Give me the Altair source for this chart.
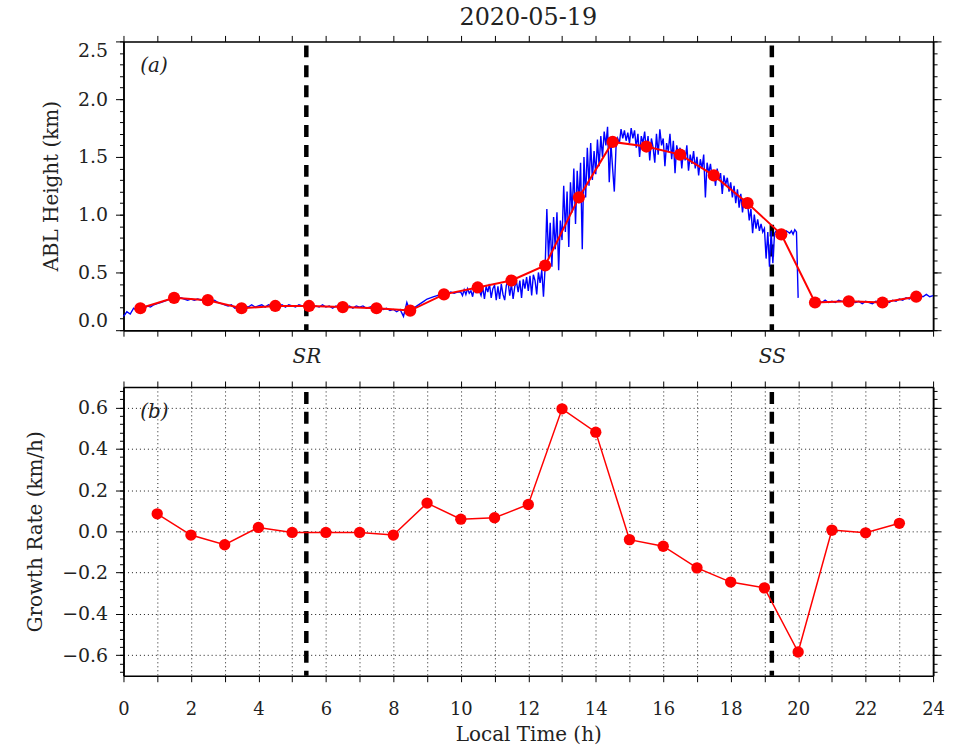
import altair as alt
import pandas as pd

FONT = "DejaVu Serif"
TXT = "#222222"

# ---------------- data ----------------
title_text = "2020-05-19"

# hourly mean ABL height (red dots, panel a)
hour_mid = [i + 0.5 for i in range(24)]
abl_hourly = [0.19, 0.28, 0.26, 0.19, 0.21, 0.21, 0.20, 0.19, 0.17, 0.31, 0.37, 0.43,
              0.56, 1.15, 1.63, 1.59, 1.52, 1.34, 1.10, 0.83, 0.24, 0.25, 0.24, 0.29]

# growth rate (panel b)
rate_hour = list(range(1, 24))
growth_rate = [0.085, -0.018, -0.065, 0.019, -0.005, -0.005, -0.005, -0.018, 0.137, 0.059,
               0.066, 0.130, 0.594, 0.481, -0.040, -0.072, -0.177, -0.246, -0.274, -0.585,
               0.006, -0.007, 0.039]

# sunrise / sunset
sun_times = [5.42, 19.22]
sun_labels = ["SR", "SS"]

# high resolution ABL height (blue line), three pieces
blue_a_start, blue_a_step = 0.0, 0.1      # 0.0 .. 9.9 h
blue_a = [0.12, 0.16, 0.14, 0.19, 0.17, 0.20, 0.18, 0.21, 0.20, 0.22,
          0.23, 0.24, 0.25, 0.26, 0.27, 0.28, 0.27, 0.28, 0.27, 0.26,
          0.27, 0.26, 0.27, 0.26, 0.27, 0.26, 0.25, 0.26, 0.24, 0.23,
          0.22, 0.21, 0.22, 0.19, 0.20, 0.19, 0.21, 0.20, 0.22, 0.20,
          0.21, 0.22, 0.20, 0.22, 0.21, 0.23, 0.21, 0.22, 0.20, 0.22,
          0.21, 0.20, 0.22, 0.21, 0.20, 0.21, 0.19, 0.21, 0.20, 0.22,
          0.20, 0.21, 0.19, 0.21, 0.20, 0.22, 0.20, 0.21, 0.19, 0.21,
          0.20, 0.21, 0.19, 0.20, 0.21, 0.19, 0.20, 0.18, 0.19, 0.17,
          0.18, 0.16, 0.18, 0.12, 0.24, 0.16, 0.19, 0.21, 0.23, 0.25,
          0.27, 0.28, 0.29, 0.30, 0.31, 0.32, 0.31, 0.33, 0.32, 0.33]
blue_b_start, blue_b_step = 10.0, 0.05    # 10.0 .. 20.0 h
blue_b = [0.33, 0.30, 0.35, 0.31, 0.36, 0.32, 0.34, 0.29, 0.37, 0.33,
          0.38, 0.34, 0.30, 0.37, 0.27, 0.38, 0.33, 0.40, 0.28, 0.36,
          0.39, 0.26, 0.38, 0.27, 0.40, 0.31, 0.26, 0.39, 0.42, 0.30,
          0.40, 0.27, 0.38, 0.42, 0.33, 0.43, 0.28, 0.44, 0.36, 0.46,
          0.34, 0.47, 0.30, 0.48, 0.43, 0.31, 0.50, 0.41, 0.52, 0.29,
          0.55, 1.05, 0.62, 0.93, 0.55, 0.98, 0.70, 1.02, 0.52, 0.95,
          0.78, 1.25, 0.85, 1.20, 0.72, 1.28, 1.02, 1.40, 0.92, 1.38,
          1.10, 1.45, 0.70, 1.50, 1.15, 1.58, 1.25, 1.62, 1.30, 1.55,
          1.35, 1.65, 1.42, 1.68, 1.50, 1.72, 1.60, 1.76, 1.28, 1.62,
          1.40, 1.20, 1.58, 1.66, 1.62, 1.74, 1.66, 1.73, 1.64, 1.71,
          1.62, 1.75, 1.66, 1.73, 1.58, 1.70, 1.50, 1.68, 1.62, 1.72,
          1.55, 1.68, 1.47, 1.66, 1.58, 1.45, 1.70, 1.52, 1.74, 1.60,
          1.66, 1.42, 1.62, 1.55, 1.70, 1.48, 1.64, 1.36, 1.60, 1.52,
          1.58, 1.40, 1.56, 1.47, 1.60, 1.38, 1.52, 1.44, 1.55, 1.40,
          1.50, 1.34, 1.48, 1.40, 1.52, 1.15, 1.45, 1.36, 1.44, 1.32,
          1.38, 1.25, 1.40, 1.30, 1.36, 1.18, 1.34, 1.26, 1.32, 1.20,
          1.28, 1.15, 1.25, 1.10, 1.22, 1.06, 1.18, 1.02, 1.14, 1.05,
          1.10, 0.95, 1.05, 0.84, 1.00, 0.88, 0.96, 0.86, 0.92, 0.85,
          0.88, 0.62, 0.85, 0.55, 0.86, 0.58, 0.84, 0.86, 0.84, 0.86,
          0.85, 0.86, 0.84, 0.86, 0.85, 0.84, 0.86, 0.83, 0.87, 0.85,
          0.28]
blue_c_start, blue_c_step = 20.4, 0.1     # 20.4 .. 24.0 h
blue_c = [0.25, 0.24, 0.25, 0.24, 0.26, 0.24, 0.25, 0.24, 0.26, 0.25,
          0.24, 0.26, 0.25, 0.24, 0.25, 0.23, 0.25, 0.24, 0.23, 0.25,
          0.24, 0.24, 0.25, 0.24, 0.26, 0.25, 0.27, 0.26, 0.28, 0.27,
          0.29, 0.28, 0.30, 0.29, 0.31, 0.29, 0.30]

# ---------------- tables ----------------
rows = []
for i, v in enumerate(blue_a):
    rows.append({"t": round(blue_a_start + blue_a_step * i, 3), "h": v, "seg": 0})
for i, v in enumerate(blue_b):
    rows.append({"t": round(blue_b_start + blue_b_step * i, 3), "h": v, "seg": 0})
for i, v in enumerate(blue_c):
    rows.append({"t": round(blue_c_start + blue_c_step * i, 3), "h": v, "seg": 1})
blue_df = pd.DataFrame(rows)
abl_df = pd.DataFrame({"hour": hour_mid, "abl": abl_hourly})
rate_df = pd.DataFrame({"hour": rate_hour, "rate": growth_rate})
sun_df = pd.DataFrame({"sun": sun_times, "name": sun_labels})
lab_a = pd.DataFrame({"x": [0.5], "y": [2.29], "label": ["(a)"]})
lab_b = pd.DataFrame({"x": [0.5], "y": [0.58], "label": ["(b)"]})

hour_ticks = list(range(25))
abl_major = [0.0, 0.5, 1.0, 1.5, 2.0, 2.5]
abl_minor = [round(0.1 * i, 1) for i in range(26)]
gr_major = [-0.6, -0.4, -0.2, 0.0, 0.2, 0.4, 0.6]
gr_minor = [round(-0.68 + 0.04 * k, 2) + 0.0 for k in range(35)]

xs = alt.Scale(domain=[0, 24], nice=False, zero=False)
ys_a = alt.Scale(domain=[0, 2.5], nice=False, zero=False)
ys_b = alt.Scale(domain=[-0.7, 0.7], nice=False, zero=False)


def ax(orient, values, **kw):
    base = dict(orient=orient, values=values, title=None, domainColor="black",
                domainWidth=1.5, tickColor="black", tickWidth=1, grid=False,
                labelFont=FONT, labelFontSize=18, labelColor=TXT, labelOverlap=False,
                labels=False, tickSize=6)
    base.update(kw)
    return alt.Axis(**base)


# ---------------- panel (a) ----------------
rule_a = alt.Chart(sun_df).mark_rule(color="black", strokeWidth=4.5, strokeDash=[12, 8],
                                     strokeDashOffset=16).encode(
    x=alt.X("sun:Q", scale=xs, axis=ax(
        "bottom", sun_times, labels=True, ticks=False,
        labelExpr="datum.value < 12 ? 'SR' : 'SS'", labelFontStyle="italic",
        labelFontSize=20, labelPadding=16, labelFlush=False))
)
blue = alt.Chart(blue_df).mark_line(color="#0000ff", strokeWidth=1.4).encode(
    x=alt.X("t:Q", scale=xs, axis=ax("bottom", hour_ticks, tickSize=6)),
    y=alt.Y("h:Q", scale=ys_a, axis=ax(
        "left", abl_major, labels=True, tickSize=8, labelPadding=8, format=".1f",
        labelFontSize=19, labelFlush=True, title="ABL Height (km)", titleFont=FONT,
        titleFontSize=20, titleFontWeight="normal", titlePadding=16, titleColor=TXT)),
    detail="seg:N",
)
red_a = alt.Chart(abl_df).mark_line(color="#ff0000", strokeWidth=2).encode(
    x=alt.X("hour:Q", scale=xs, axis=ax("top", hour_ticks, tickSize=6)),
    y=alt.Y("abl:Q", scale=ys_a, axis=ax("right", abl_major, tickSize=8)),
)
dots_a = alt.Chart(abl_df).mark_circle(color="#ff0000", size=150, opacity=1).encode(
    x=alt.X("hour:Q", scale=xs, axis=None),
    y=alt.Y("abl:Q", scale=ys_a, axis=ax("right", abl_minor, tickSize=4)),
)
text_a = alt.Chart(lab_a).mark_text(font=FONT, fontSize=20, fontStyle="italic", color=TXT,
                                    align="left", baseline="middle").encode(
    x=alt.X("x:Q", scale=xs, axis=None),
    y=alt.Y("y:Q", scale=ys_a, axis=ax("left", abl_minor, tickSize=4)),
    text="label:N",
)
panel_a = alt.layer(rule_a, blue, red_a, dots_a, text_a).resolve_axis(
    x="independent", y="independent"
).properties(
    width=813, height=290,
    title=alt.TitleParams(title_text, font=FONT, fontSize=24, fontWeight="normal",
                          color=TXT, anchor="middle", frame="group", offset=5),
)

# ---------------- panel (b) ----------------
grid_kw = dict(grid=True, gridColor="black", gridDash=[1, 3], gridWidth=1, gridOpacity=0.9)
rule_b = alt.Chart(sun_df).mark_rule(color="black", strokeWidth=4.5, strokeDash=[12, 8],
                                     strokeDashOffset=15).encode(
    x=alt.X("sun:Q", scale=xs, axis=None)
)
red_b = alt.Chart(rate_df).mark_line(color="#ff0000", strokeWidth=1.5).encode(
    x=alt.X("hour:Q", scale=xs, axis=ax(
        "bottom", hour_ticks, labels=True, format="d", tickSize=6, labelPadding=19,
        labelExpr="datum.value % 2 == 0 ? datum.label : ''", labelFlush=False,
        title="Local Time (h)", titleFont=FONT, titleFontSize=20, titleFontWeight="normal",
        titlePadding=6, titleColor=TXT, **grid_kw)),
    y=alt.Y("rate:Q", scale=ys_b, axis=ax(
        "left", gr_major, labels=True, tickSize=8, labelPadding=8, format=".1f",
        labelFontSize=19, title="Growth Rate (km/h)", titleFont=FONT, titleFontSize=20,
        titleFontWeight="normal", titlePadding=16, titleColor=TXT, **grid_kw)),
)
dots_b = alt.Chart(rate_df).mark_circle(color="#ff0000", size=130, opacity=1).encode(
    x=alt.X("hour:Q", scale=xs, axis=ax("top", hour_ticks, tickSize=6)),
    y=alt.Y("rate:Q", scale=ys_b, axis=ax("right", gr_major, tickSize=8)),
)
text_b = alt.Chart(lab_b).mark_text(font=FONT, fontSize=20, fontStyle="italic", color=TXT,
                                    align="left", baseline="middle").encode(
    x=alt.X("x:Q", scale=xs, axis=None),
    y=alt.Y("y:Q", scale=ys_b, axis=ax("left", gr_minor, tickSize=4)),
    text="label:N",
)
minor_b = alt.Chart(rate_df).mark_circle(opacity=0, size=1).encode(
    x=alt.X("hour:Q", scale=xs, axis=None),
    y=alt.Y("rate:Q", scale=ys_b, axis=ax("right", gr_minor, tickSize=4)),
)
panel_b = alt.layer(rule_b, red_b, dots_b, text_b, minor_b).resolve_axis(
    x="independent", y="independent"
).properties(width=813, height=290)

chart = alt.vconcat(panel_a, panel_b, spacing=57, bounds="flush").properties(
    padding={"left": 25, "top": 4, "right": 10, "bottom": 10}
).configure_view(stroke=None).configure(background="white")

chart.save("out.html", embed_options={"renderer": "svg", "actions": False})
